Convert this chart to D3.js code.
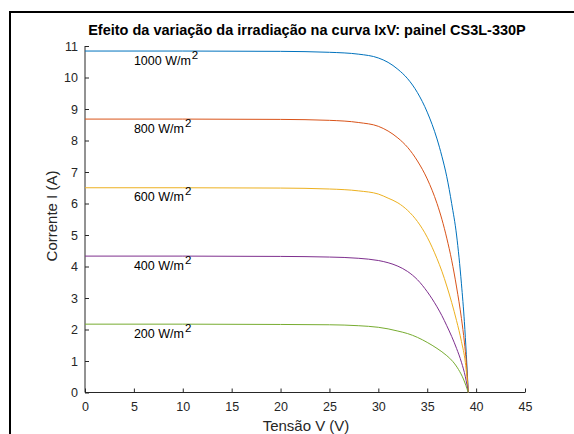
<!DOCTYPE html>
<html>
<head>
<meta charset="utf-8">
<script src="https://cdn.jsdelivr.net/npm/d3@7"></script>
<style>
  body { margin: 0; background: #fff; }
  text { font-family: "Liberation Sans", Arial, sans-serif; }
</style>
</head>
<body>
<svg id="chart" width="574" height="434"></svg>
<script>
// Irradiance levels (W/m2) and one V/I pair of arrays per curve
var irradiances = [1000, 800, 600, 400, 200];

var v1000 = [0, 10, 20, 25, 28, 30, 31, 32, 33, 34, 35, 36, 36.5, 37, 37.5, 38, 38.5, 38.8, 39.0, 39.2];
var i1000 = [10.84, 10.84, 10.83, 10.80, 10.74, 10.62, 10.48, 10.26, 9.96, 9.52, 8.9, 8.05, 7.5, 6.85, 6.0, 5.0, 3.45, 2.25, 1.2, 0];

var v800 = [0, 10, 20, 25, 28, 30, 31, 32, 33, 34, 35, 36, 36.5, 37, 37.5, 38, 38.5, 38.8, 39.0, 39.2];
var i800 = [8.68, 8.68, 8.67, 8.64, 8.57, 8.45, 8.3, 8.08, 7.78, 7.35, 6.78, 6.0, 5.5, 4.9, 4.2, 3.35, 2.35, 1.6, 0.95, 0];

var v600 = [0, 10, 20, 25, 28, 30, 31, 32, 33, 34, 35, 36, 36.5, 37, 37.5, 38, 38.5, 38.9, 39.2];
var i600 = [6.50, 6.50, 6.49, 6.46, 6.40, 6.30, 6.17, 6.02, 5.78, 5.43, 4.93, 4.25, 3.85, 3.38, 2.86, 2.28, 1.62, 0.95, 0];

var v400 = [0, 10, 20, 25, 28, 30, 31, 32, 33, 34, 35, 36, 36.5, 37, 37.5, 38, 38.5, 38.9, 39.2];
var i400 = [4.33, 4.33, 4.32, 4.30, 4.26, 4.19, 4.12, 4.01, 3.84, 3.58, 3.2, 2.72, 2.44, 2.12, 1.78, 1.4, 0.96, 0.5, 0];

var v200 = [0, 10, 20, 25, 28, 30, 31, 32, 33, 34, 35, 36, 37, 37.6, 38.2, 38.7, 39.2];
var i200 = [2.17, 2.17, 2.16, 2.15, 2.12, 2.07, 2.02, 1.95, 1.87, 1.75, 1.59, 1.4, 1.17, 0.99, 0.73, 0.43, 0];

// label anchor per curve (V, I)
var labelV = 5;
var labelI = [10.54, 8.38, 6.22, 4.03, 1.87];

var xTicks = [0, 5, 10, 15, 20, 25, 30, 35, 40, 45];
var yTicks = [0, 1, 2, 3, 4, 5, 6, 7, 8, 9, 10, 11];

// MATLAB default line colours
var colors = ["#0072BD", "#D95319", "#EDB120", "#7E2F8E", "#77AC30"];

var curves = [
  { v: v1000, i: i1000 },
  { v: v800, i: i800 },
  { v: v600, i: i600 },
  { v: v400, i: i400 },
  { v: v200, i: i200 }
];

var svg = d3.select("#chart");

// figure frame (cropped on the right and bottom)
svg.append("rect")
  .attr("x", 10).attr("y", 12)
  .attr("width", 700).attr("height", 600)
  .attr("fill", "none")
  .attr("stroke", "#000")
  .attr("stroke-width", 2);

var x = d3.scaleLinear().domain([0, 45]).range([85, 525]);
var y = d3.scaleLinear().domain([0, 11]).range([392.5, 46]);

var axisColor = "#262626";

// x axis, ticks pointing inward
var gx = svg.append("g")
  .attr("transform", "translate(0," + y(0) + ")")
  .call(d3.axisBottom(x).tickValues(xTicks).tickSize(-4).tickPadding(10).tickFormat(d3.format("d")));
gx.select(".domain").attr("stroke", axisColor).attr("d", "M" + x(0) + ",0H" + x(45));
gx.selectAll(".tick line").attr("stroke", axisColor);
gx.selectAll(".tick text").attr("fill", axisColor).style("font-size", "12.5px")
  .attr("font-family", "Liberation Sans, Arial, sans-serif");

// y axis
var gy = svg.append("g")
  .attr("transform", "translate(" + x(0) + ",0)")
  .call(d3.axisLeft(y).tickValues(yTicks).tickSize(-4).tickPadding(7).tickFormat(d3.format("d")));
gy.select(".domain").attr("stroke", axisColor).attr("d", "M0," + y(0) + "V" + y(11));
gy.selectAll(".tick line").attr("stroke", axisColor);
gy.selectAll(".tick text").attr("fill", axisColor).style("font-size", "12.5px")
  .attr("font-family", "Liberation Sans, Arial, sans-serif");

// curves
var line = d3.line()
  .x(function(d) { return x(d[0]); })
  .y(function(d) { return y(d[1]); })
  .curve(d3.curveMonotoneX);

curves.forEach(function(c, k) {
  var pts = c.v.map(function(v, j) { return [v, c.i[j]]; });
  svg.append("path")
    .datum(pts)
    .attr("d", line)
    .attr("fill", "none")
    .attr("stroke", colors[k])
    .attr("stroke-width", 1);
});

// curve labels
irradiances.forEach(function(g, k) {
  var t = svg.append("text")
    .attr("x", x(labelV))
    .attr("y", y(labelI[k]))
    .attr("dy", "0.35em")
    .attr("fill", "#000")
    .style("font-size", "12.5px");
  t.append("tspan").text(g + " W/m");
  t.append("tspan").attr("dx", "1").attr("dy", "-0.5em").style("font-size", "11.5px").text("2");
});

// title
svg.append("text")
  .attr("x", 307).attr("y", 35)
  .attr("text-anchor", "middle")
  .style("font-size", "14.5px")
  .style("font-weight", "bold")
  .attr("fill", "#000")
  .text("Efeito da variação da irradiação na curva IxV: painel CS3L-330P");

// axis labels
svg.append("text")
  .attr("x", 306).attr("y", 431)
  .attr("text-anchor", "middle")
  .style("font-size", "15px")
  .attr("fill", axisColor)
  .text("Tensão V (V)");

svg.append("text")
  .attr("transform", "translate(57,216) rotate(-90)")
  .attr("text-anchor", "middle")
  .style("font-size", "15px")
  .attr("fill", axisColor)
  .text("Corrente I (A)");
</script>
</body>
</html>
